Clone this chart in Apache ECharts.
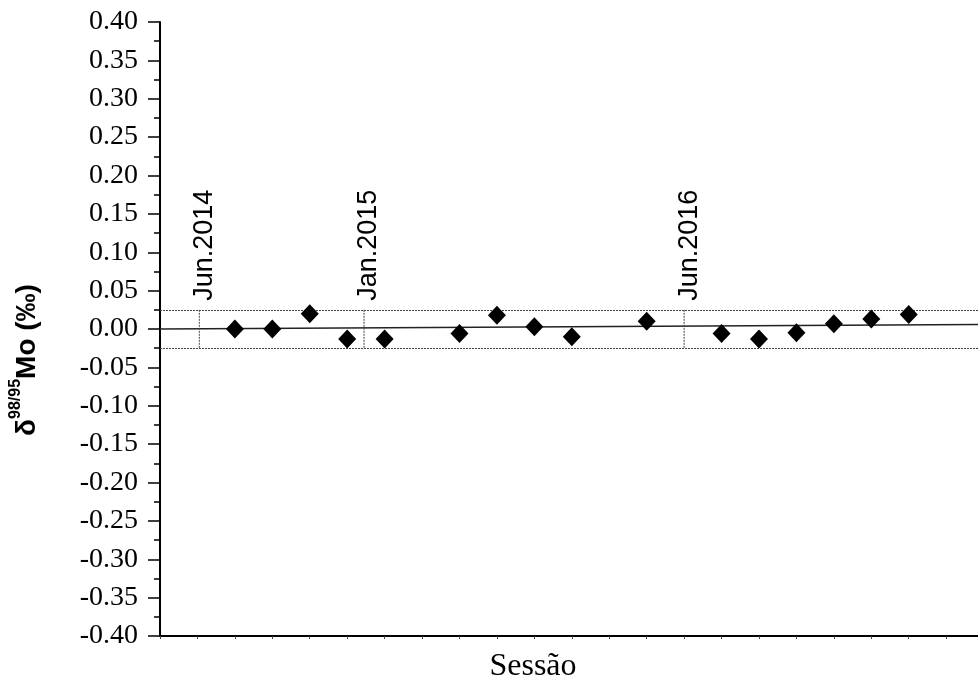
<!DOCTYPE html>
<html>
<head>
<meta charset="utf-8">
<script src="https://cdn.jsdelivr.net/npm/echarts@6/dist/echarts.min.js"></script>
<style>
html, body { margin: 0; padding: 0; background: #fff; }
#chart { width: 978px; height: 681px; }
</style>
</head>
<body>
<div id="chart"></div>
<script>
// session number of each measurement and its delta 98/95 Mo value
const sessions = [2, 3, 4, 5, 6, 8, 9, 10, 11, 13, 15, 16, 17, 18, 19, 20];
const deltaMo = [0.000, 0.000, 0.020, -0.013, -0.013, -0.006, 0.018, 0.003, -0.010,
                 0.010, -0.006, -0.013, -0.005, 0.007, 0.013, 0.019];

// fitted trend line (end points)
const trendX = [0, 21.85];
const trendY = [0.000, 0.006];

// reproducibility band
const bandLimit = 0.025;

// instrument events
const eventNames = ["Jun.2014", "Jan.2015", "Jun.2016"];
const eventSessions = [1.05, 5.45, 14];

const yTicks = { min: -0.4, max: 0.4, step: 0.05 };

function fmt(v) {
    if (Math.abs(v) < 1e-9) return "0.00";
    return v.toFixed(2);
}

const chart = echarts.init(document.getElementById("chart"));

chart.setOption({
    animation: false,
    backgroundColor: "#fff",
    grid: { left: 160, right: 0, top: 22, bottom: 45, outerBoundsMode: "none" },
    xAxis: {
        type: "value",
        min: 0,
        max: trendX[1],
        interval: 1,
        axisLine: { show: true, onZero: false, lineStyle: { color: "#000", width: 2 } },
        axisTick: { show: true, inside: false, length: 3, lineStyle: { color: "#444", width: 1 } },
        axisLabel: { show: false },
        splitLine: { show: false }
    },
    yAxis: {
        type: "value",
        min: yTicks.min,
        max: yTicks.max,
        interval: yTicks.step,
        axisLine: { show: true, onZero: false, lineStyle: { color: "#000", width: 2 } },
        axisTick: { show: true, inside: false, length: 12, lineStyle: { color: "#000", width: 1.5 } },
        minorTick: { show: true, splitNumber: 2, length: 6, lineStyle: { color: "#000", width: 1.5 } },
        axisLabel: {
            formatter: fmt,
            color: "#000",
            fontFamily: "Liberation Serif",
            fontSize: 28,
            margin: 22
        },
        splitLine: { show: false }
    },
    graphic: [
        {
            type: "text",
            x: 533,
            y: 667,
            style: {
                text: "Sessão",
                fontFamily: "Liberation Serif",
                fontSize: 32,
                fill: "#000",
                align: "center",
                verticalAlign: "middle"
            }
        },
        {
            type: "text",
            x: 27,
            y: 360,
            rotation: Math.PI / 2,
            style: {
                text: "{d|δ}{s|98/95}{m|Mo (‰)}",
                align: "center",
                verticalAlign: "middle",
                rich: {
                    d: { fontFamily: "Liberation Sans", fontWeight: "bold", fontSize: 28, fill: "#000", lineHeight: 38 },
                    s: { fontFamily: "Liberation Sans", fontWeight: "bold", fontSize: 16, fill: "#000", lineHeight: 38, verticalAlign: "top" },
                    m: { fontFamily: "Liberation Sans", fontWeight: "bold", fontSize: 28, fill: "#000", lineHeight: 38 }
                }
            }
        }
    ],
    series: [
        {
            name: "trend",
            type: "line",
            data: trendX.map((x, i) => [x, trendY[i]]),
            symbol: "none",
            lineStyle: { color: "#222", width: 1.5 },
            z: 2,
            markLine: {
                silent: true,
                symbol: "none",
                precision: 3,
                label: { show: false },
                lineStyle: { color: "#444", width: 1, type: [2, 1] },
                data: [{ yAxis: bandLimit }, { yAxis: -bandLimit }]
            }
        },
        {
            name: "events",
            type: "custom",
            data: eventSessions.map((s) => [s, bandLimit]),
            z: 3,
            renderItem(params, api) {
                const x = api.value(0);
                const top = api.coord([x, bandLimit]);
                const bottom = api.coord([x, -bandLimit]);
                return {
                    type: "group",
                    children: [
                        {
                            type: "line",
                            shape: { x1: top[0], y1: top[1], x2: bottom[0], y2: bottom[1] },
                            style: { stroke: "#444", lineWidth: 1, lineDash: [2, 1] }
                        },
                        {
                            type: "text",
                            x: top[0] + 5,
                            y: top[1] - 9,
                            rotation: Math.PI / 2,
                            style: {
                                text: eventNames[params.dataIndex],
                                fontFamily: "Liberation Sans",
                                fontSize: 27,
                                fill: "#000",
                                align: "left",
                                verticalAlign: "middle"
                            }
                        }
                    ]
                };
            }
        },
        {
            name: "delta98/95Mo",
            type: "scatter",
            data: sessions.map((s, i) => [s, deltaMo[i]]),
            symbol: "diamond",
            symbolSize: [18, 19],
            itemStyle: { color: "#000", opacity: 1 },
            z: 5
        }
    ]
});
</script>
</body>
</html>
